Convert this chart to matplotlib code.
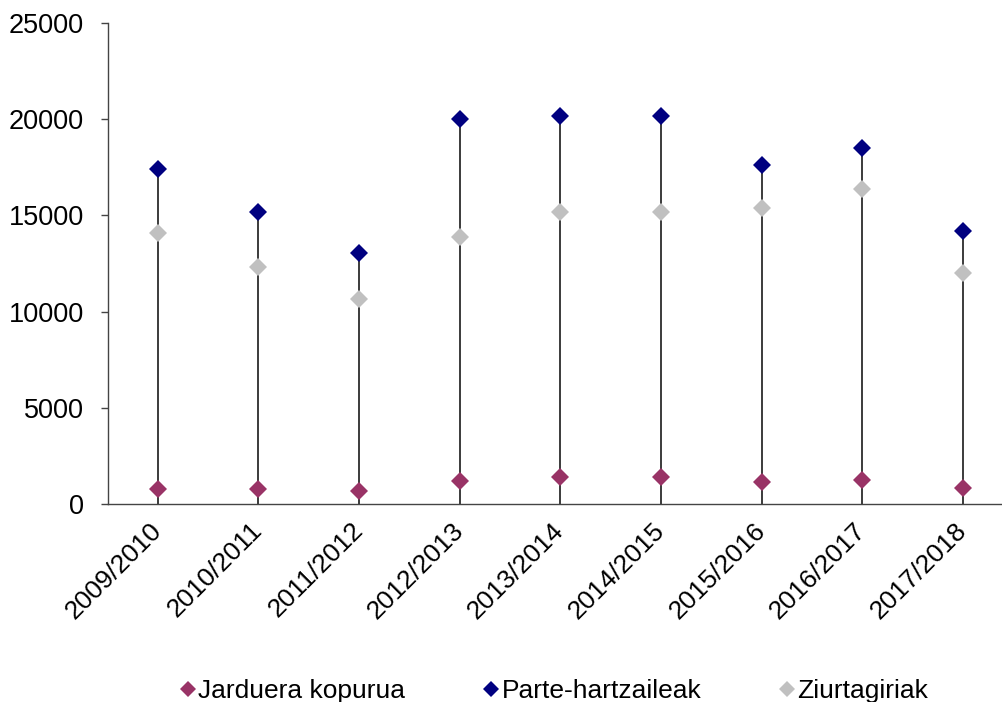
import numpy as np
import matplotlib
matplotlib.use("Agg")
from matplotlib import pyplot as plt
from matplotlib.lines import Line2D

plt.rcParams['font.family'] = ['Liberation Sans', 'DejaVu Sans']

# data
seasons = ["2009/2010", "2010/2011", "2011/2012", "2012/2013", "2013/2014",
           "2014/2015", "2015/2016", "2016/2017", "2017/2018"]
jarduera = [800, 800, 670, 1210, 1400, 1400, 1140, 1260, 860]
parte = [17420, 15160, 13030, 20020, 20150, 20150, 17630, 18500, 14170]
ziurtagiriak = [14100, 12300, 10640, 13900, 15180, 15180, 15370, 16350, 12030]

c_jard = "#993366"
c_parte = "#000080"
c_ziurt = "#C0C0C0"

fig = plt.figure(figsize=(10.03, 7.02), dpi=100)
ax = fig.add_axes([0.1072, 0.2816, 0.8928, 0.6861])

x = np.arange(len(seasons))

# drop lines from the axis up to the highest point
ax.vlines(x, 0, parte, colors="#1a1a1a", linewidth=1.2, zorder=1)

ax.plot(x, jarduera, "D", color=c_jard, ms=9, mew=0, zorder=3)
ax.plot(x, parte, "D", color=c_parte, ms=9, mew=0, zorder=3)
ax.plot(x, ziurtagiriak, "D", color=c_ziurt, ms=9, mew=0, zorder=2)

ax.set_xlim(-0.5, 8.4)
ax.set_ylim(0, 25000)
ax.set_yticks(np.arange(0, 25001, 5000))
ax.set_xticks(x)
ax.set_xticklabels(seasons, rotation=45, ha="right", va="center",
                   rotation_mode="anchor", fontsize=19)

ax.tick_params(axis="y", direction="out", length=5, width=1, color="#444444",
               labelsize=19.5, pad=12)
ax.tick_params(axis="x", length=0, pad=16)

for s in ["top", "right"]:
    ax.spines[s].set_visible(False)
for s in ["left", "bottom"]:
    ax.spines[s].set_color("#444444")
    ax.spines[s].set_linewidth(1.0)

handles = [
    Line2D([], [], marker="D", linestyle="none", color=c_jard, ms=8, mew=0),
    Line2D([], [], marker="D", linestyle="none", color=c_parte, ms=8, mew=0),
    Line2D([], [], marker="D", linestyle="none", color=c_ziurt, ms=8, mew=0),
]
fig.legend(handles, ["Jarduera kopurua", "Parte-hartzaileak", "Ziurtagiriak"],
           loc="center", bbox_to_anchor=(0.553, 0.016), ncol=3, frameon=False,
           fontsize=19, handlelength=0.5, handletextpad=0.15, columnspacing=3.0)

fig.savefig("out.png", dpi=100)
